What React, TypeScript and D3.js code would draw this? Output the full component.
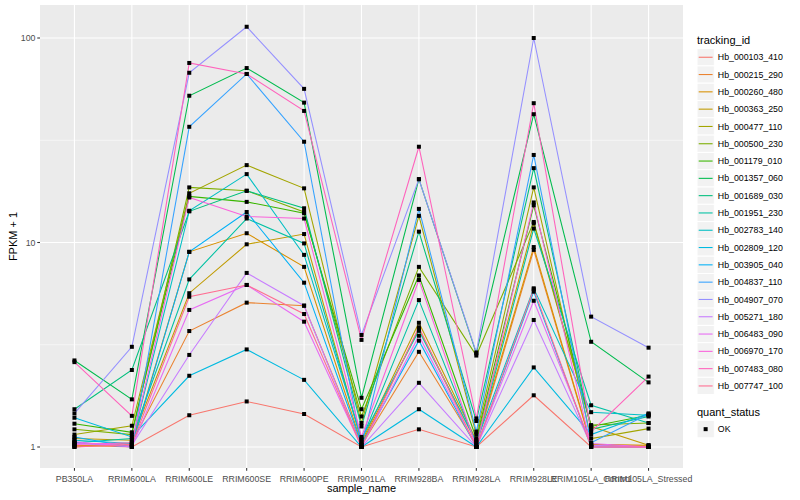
import React, { useEffect, useRef } from 'react';
import * as d3 from 'd3';

const samples = [
  'PB350LA', 'RRIM600LA', 'RRIM600LE', 'RRIM600SE', 'RRIM600PE', 'RRIM901LA',
  'RRIM928BA', 'RRIM928LA', 'RRIM928LE', 'RRIM105LA_Control', 'RRIM105LA_Stressed',
];

const trackingIds = [
  'Hb_000103_410', 'Hb_000215_290', 'Hb_000260_480', 'Hb_000363_250', 'Hb_000477_110',
  'Hb_000500_230', 'Hb_001179_010', 'Hb_001357_060', 'Hb_001689_030', 'Hb_001951_230',
  'Hb_002783_140', 'Hb_002809_120', 'Hb_003905_040', 'Hb_004837_110', 'Hb_004907_070',
  'Hb_005271_180', 'Hb_006483_090', 'Hb_006970_170', 'Hb_007483_080', 'Hb_007747_100',
];

// ggplot default hue palette for 20 levels
const palette = [
  '#F8766D', '#EA8331', '#D89000', '#C09B00', '#A3A500', '#7CAE00', '#39B600', '#00BB4E',
  '#00BF7D', '#00C1A3', '#00BFC4', '#00BAE0', '#00B0F6', '#35A2FF', '#9590FF', '#C77CFF',
  '#E76BF3', '#FA62DB', '#FF62BC', '#FF6C91',
];

// FPKM + 1, one row per tracking_id, in sample order
const fpkm = [
  [1.02, 1.0, 1.43, 1.67, 1.45, 1.0, 1.22, 1.0, 1.79, 1.0, 1.0],
  [1.0, 1.05, 3.69, 5.08, 4.91, 1.02, 2.92, 1.02, 9.2, 1.02, 1.01],
  [1.01, 1.02, 9.0, 11.1, 7.6, 1.04, 3.78, 1.05, 9.5, 1.03, 1.02],
  [1.1, 1.08, 5.65, 9.8, 11.0, 1.06, 4.05, 1.08, 12.4, 1.26, 1.02],
  [1.15, 1.27, 17.4, 23.9, 18.4, 1.31, 13.5, 1.15, 18.6, 1.1, 1.23],
  [1.22, 1.15, 18.6, 17.9, 14.1, 1.41, 7.6, 2.8, 12.6, 1.28, 1.31],
  [1.3, 1.18, 16.8, 15.8, 13.9, 1.53, 6.9, 1.1, 15.2, 1.26, 1.43],
  [2.65, 1.71, 52.2, 71.3, 48.3, 1.74, 20.4, 2.87, 42.4, 3.27, 2.07],
  [1.53, 2.38, 14.2, 17.9, 14.7, 1.26, 11.3, 1.34, 23.1, 1.22, 1.41],
  [1.05, 1.1, 6.6, 13.1, 9.9, 1.08, 5.23, 1.03, 11.7, 1.6, 1.31],
  [1.08, 1.04, 14.3, 21.6, 8.7, 1.1, 3.7, 1.06, 5.97, 1.48, 1.43],
  [1.39, 1.12, 2.23, 3.0, 2.13, 1.0, 1.53, 1.0, 2.45, 1.15, 1.46],
  [1.12, 1.0, 9.0, 14.1, 6.36, 1.03, 3.31, 1.0, 5.75, 1.0, 1.0],
  [1.05, 1.0, 36.8, 66.7, 31.1, 1.02, 14.6, 1.19, 26.8, 1.05, 1.45],
  [1.46, 3.09, 67.6, 113.5, 56.4, 3.53, 20.4, 2.9, 100, 4.34, 3.06],
  [1.04, 1.02, 2.82, 7.1, 4.91, 1.0, 2.06, 1.0, 4.18, 1.02, 1.0],
  [1.06, 1.0, 4.68, 6.2, 4.1, 1.0, 3.5, 1.0, 5.19, 1.04, 1.0],
  [1.03, 1.05, 16.6, 13.4, 13.1, 1.12, 6.56, 1.0, 15.7, 1.0, 1.0],
  [2.6, 1.42, 75.5, 66.7, 44.0, 3.34, 29.4, 1.38, 48.0, 1.19, 2.21],
  [1.0, 1.03, 5.43, 6.2, 4.47, 1.0, 3.85, 1.0, 5.9, 1.0, 1.0],
];

const yTicks = [1, 10, 100];
const yMinor = [Math.sqrt(10), Math.sqrt(1000)];

const font = '"Liberation Sans", Arial, Helvetica, sans-serif';

const App: React.FC = () => {
  const ref = useRef<SVGSVGElement>(null);

  useEffect(() => {
    const width = 800;
    const height = 500;
    const panel = { left: 40, right: 683, top: 5, bottom: 468 };

    const svg = d3.select(ref.current)
      .attr('width', width)
      .attr('height', height);

    svg.selectAll('*').remove();

    svg.append('rect').attr('width', width).attr('height', height).attr('fill', '#fff');

    const x = d3.scalePoint<string>()
      .domain(samples)
      .range([panel.left, panel.right])
      .padding(0.6);

    const y = d3.scaleLog()
      .domain([Math.pow(10, -0.1027), Math.pow(10, 2.1614)])
      .range([panel.bottom, panel.top]);

    const color = d3.scaleOrdinal<string>()
      .domain(trackingIds)
      .range(palette);

    svg.append('rect')
      .attr('x', panel.left)
      .attr('y', panel.top)
      .attr('width', panel.right - panel.left)
      .attr('height', panel.bottom - panel.top)
      .attr('fill', '#EBEBEB');

    // grid
    svg.append('g').selectAll('line')
      .data(yMinor)
      .enter()
      .append('line')
      .attr('x1', panel.left).attr('x2', panel.right)
      .attr('y1', d => y(d)).attr('y2', d => y(d))
      .attr('stroke', '#fff').attr('stroke-width', 0.55);

    svg.append('g').selectAll('line')
      .data(yTicks)
      .enter()
      .append('line')
      .attr('x1', panel.left).attr('x2', panel.right)
      .attr('y1', d => y(d)).attr('y2', d => y(d))
      .attr('stroke', '#fff').attr('stroke-width', 1.1);

    svg.append('g').selectAll('line')
      .data(samples)
      .enter()
      .append('line')
      .attr('x1', d => x(d)!).attr('x2', d => x(d)!)
      .attr('y1', panel.top).attr('y2', panel.bottom)
      .attr('stroke', '#fff').attr('stroke-width', 1.1);

    // lines
    const line = d3.line<number>()
      .x((_, i) => x(samples[i])!)
      .y(d => y(d));

    svg.append('g').selectAll('path')
      .data(fpkm)
      .enter()
      .append('path')
      .attr('d', d => line(d))
      .attr('fill', 'none')
      .attr('stroke', (_, i) => color(trackingIds[i]))
      .attr('stroke-width', 1.07);

    // points
    const pts = fpkm.flatMap(row => row.map((v, i) => ({ s: samples[i], v })));
    svg.append('g').selectAll('rect')
      .data(pts)
      .enter()
      .append('rect')
      .attr('x', d => x(d.s)! - 2)
      .attr('y', d => y(d.v) - 2)
      .attr('width', 4)
      .attr('height', 4)
      .attr('fill', '#000');

    // axes
    const yAxis = svg.append('g');
    yTicks.forEach(t => {
      yAxis.append('line')
        .attr('x1', panel.left - 2.75).attr('x2', panel.left)
        .attr('y1', y(t)).attr('y2', y(t))
        .attr('stroke', '#333').attr('stroke-width', 1.07);
      yAxis.append('text')
        .attr('x', panel.left - 4.5)
        .attr('y', y(t))
        .attr('dy', '0.35em')
        .attr('text-anchor', 'end')
        .attr('font-size', 8.8)
        .attr('font-family', font)
        .attr('fill', '#4D4D4D')
        .text(d3.format('d')(t));
    });

    const xAxis = svg.append('g');
    samples.forEach(s => {
      xAxis.append('line')
        .attr('x1', x(s)!).attr('x2', x(s)!)
        .attr('y1', panel.bottom).attr('y2', panel.bottom + 2.75)
        .attr('stroke', '#333').attr('stroke-width', 1.07);
      xAxis.append('text')
        .attr('x', x(s)!)
        .attr('y', panel.bottom + 13.5)
        .attr('text-anchor', 'middle')
        .attr('font-size', 8.8)
        .attr('font-family', font)
        .attr('fill', '#4D4D4D')
        .text(s);
    });

    svg.append('text')
      .attr('x', (panel.left + panel.right) / 2)
      .attr('y', 492)
      .attr('text-anchor', 'middle')
      .attr('font-size', 11)
      .attr('font-family', font)
      .text('sample_name');

    svg.append('text')
      .attr('transform', `translate(17, ${(panel.top + panel.bottom) / 2}) rotate(-90)`)
      .attr('text-anchor', 'middle')
      .attr('font-size', 11)
      .attr('font-family', font)
      .text('FPKM + 1');

    // legend
    const lg = svg.append('g').attr('transform', 'translate(697, 0)');
    lg.append('text')
      .attr('x', 0).attr('y', 44)
      .attr('font-size', 11)
      .attr('font-family', font)
      .text('tracking_id');

    const keySize = 17.3;
    const keyTop = 48.6;
    trackingIds.forEach((id, i) => {
      const ky = keyTop + i * keySize;
      lg.append('rect')
        .attr('x', 0).attr('y', ky)
        .attr('width', keySize).attr('height', keySize)
        .attr('fill', '#F2F2F2').attr('stroke', '#fff').attr('stroke-width', 1);
      lg.append('line')
        .attr('x1', 1.7).attr('x2', keySize - 1.7)
        .attr('y1', ky + keySize / 2).attr('y2', ky + keySize / 2)
        .attr('stroke', color(id)).attr('stroke-width', 1.07);
      lg.append('text')
        .attr('x', keySize + 3.5).attr('y', ky + keySize / 2)
        .attr('dy', '0.35em')
        .attr('font-size', 8.8)
        .attr('font-family', font)
        .text(id);
    });

    lg.append('text')
      .attr('x', 0).attr('y', 416)
      .attr('font-size', 11)
      .attr('font-family', font)
      .text('quant_status');

    const okY = 420.5;
    lg.append('rect')
      .attr('x', 0).attr('y', okY)
      .attr('width', keySize).attr('height', keySize)
      .attr('fill', '#F2F2F2').attr('stroke', '#fff').attr('stroke-width', 1);
    lg.append('rect')
      .attr('x', keySize / 2 - 2).attr('y', okY + keySize / 2 - 2)
      .attr('width', 4).attr('height', 4)
      .attr('fill', '#000');
    lg.append('text')
      .attr('x', keySize + 3.5).attr('y', okY + keySize / 2)
      .attr('dy', '0.35em')
      .attr('font-size', 8.8)
      .attr('font-family', font)
      .text('OK');
  }, []);

  return (
    <svg ref={ref} style={{ position: 'absolute', left: 0, top: 0 }}></svg>
  );
};

export default App;
